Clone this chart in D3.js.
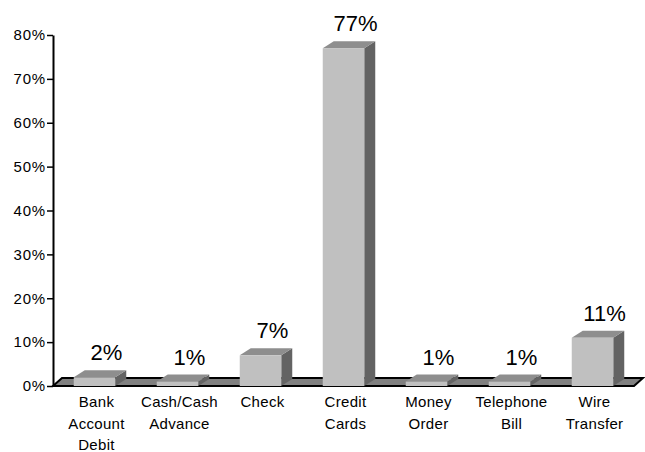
<!DOCTYPE html>
<html>
<head>
<meta charset="utf-8">
<script src="https://cdn.jsdelivr.net/npm/d3@7"></script>
<style>
  html, body { margin: 0; padding: 0; background: #fff; }
  svg { display: block; font-family: "Liberation Sans", Arial, sans-serif; }
</style>
</head>
<body>
<svg id="chart" width="645" height="452"></svg>
<script>
// Payment methods and their shares (percent)
const categories = [
  "Bank\nAccount\nDebit",
  "Cash/Cash\nAdvance",
  "Check",
  "Credit\nCards",
  "Money\nOrder",
  "Telephone\nBill",
  "Wire\nTransfer"
];
const values = [2, 1, 7, 77, 1, 1, 11];
const tickValues = [0, 10, 20, 30, 40, 50, 60, 70, 80];

const svg = d3.select("#chart");

const x0 = 53, x1 = 634, yBase = 386, yTop = 35;
const depthX = 11, depthY = -7;      // column depth offset
const floorX = 9, floorY = -8;       // floor depth offset

const x = d3.scaleBand()
  .domain(categories)
  .range([x0, x1])
  .paddingInner(0.5)
  .paddingOuter(0.25);

const y = d3.scaleLinear().domain([0, 80]).range([yBase, yTop]);

// floor slab
svg.append("polygon")
  .attr("points", [[x0, yBase], [x1, yBase], [x1 + floorX, yBase + floorY], [x0 + floorX, yBase + floorY]].join(" "))
  .attr("fill", "#808080")
  .attr("stroke", "#000")
  .attr("stroke-width", 2)
  .attr("stroke-linejoin", "miter");

// value axis
const axis = d3.axisLeft(y)
  .tickValues(tickValues)
  .tickSize(6)
  .tickSizeOuter(0)
  .tickFormat(d => d + "%");

const gAxis = svg.append("g")
  .attr("transform", `translate(${x0},0)`)
  .call(axis);
gAxis.select(".domain").attr("stroke", "#000").attr("stroke-width", 2);
gAxis.selectAll(".tick line").attr("stroke", "#000").attr("stroke-width", 1.5);
gAxis.selectAll(".tick text")
  .attr("x", -7)
  .attr("fill", "#000")
  .style("font-size", "15px")
  .style("letter-spacing", "0.8px")
  .style("font-family", "'Liberation Sans', Arial, sans-serif");

// columns
const data = categories.map((c, i) => ({ c, v: values[i] }));
const bars = svg.append("g").selectAll("g").data(data).join("g");

bars.each(function (d) {
  const g = d3.select(this);
  const bx = x(d.c), bw = x.bandwidth(), top = y(d.v);
  // side face
  g.append("polygon")
    .attr("points", [[bx + bw, top], [bx + bw + depthX, top + depthY], [bx + bw + depthX, yBase + depthY], [bx + bw, yBase]].join(" "))
    .attr("fill", "#636363");
  // top face
  g.append("polygon")
    .attr("points", [[bx, top], [bx + depthX, top + depthY], [bx + bw + depthX, top + depthY], [bx + bw, top]].join(" "))
    .attr("fill", "#8e8e8e");
  // front face
  g.append("rect")
    .attr("x", bx).attr("y", top)
    .attr("width", bw).attr("height", yBase - top)
    .attr("fill", "#c0c0c0");
  // value label
  g.append("text")
    .attr("x", bx + bw / 2 + 12)
    .attr("y", top - 17)
    .attr("text-anchor", "middle")
    .style("font-size", "22px")
    .attr("fill", "#000")
    .text(d.v + "%");
});

// category labels
const cats = svg.append("g").selectAll("text").data(categories).join("text")
  .attr("text-anchor", "middle")
  .style("font-size", "15px")
  .style("letter-spacing", "0.3px")
  .attr("fill", "#000")
  .attr("transform", d => `translate(${x(d) + x.bandwidth() / 2 + 2},407)`);
cats.selectAll("tspan")
  .data(d => d.split("\n"))
  .join("tspan")
  .attr("x", 0)
  .attr("y", (d, i) => i * 21.5)
  .text(d => d);
</script>
</body>
</html>
